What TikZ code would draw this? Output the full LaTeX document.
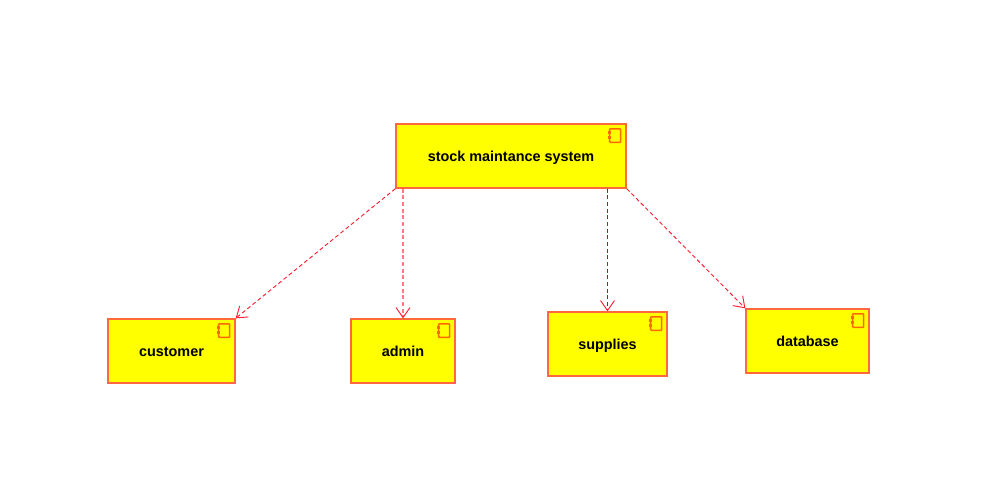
\documentclass[tikz,border=0pt]{standalone}
\usepackage{fontspec}
\setmainfont{Liberation Sans}
\usetikzlibrary{arrows.meta}
\definecolor{boxfill}{RGB}{255,255,0}
\definecolor{boxline}{RGB}{255,105,60}
\definecolor{iconline}{RGB}{255,105,0}
\definecolor{depred}{RGB}{255,30,50}
\definecolor{depdarkred}{RGB}{210,0,30}
\tikzset{
  x=0.75pt,y=-0.75pt,
  comp/.style={draw=boxline,line width=1pt,fill=boxfill,inner sep=0pt,
    text height=8pt,text depth=0pt,
    font=\bfseries\fontsize{10.8pt}{12pt}\selectfont,text=black},
  dep/.style={draw=depred,line width=0.7pt,dash pattern=on 3pt off 2pt,
    -{Straight Barb[length=7.5pt,width=10.5pt,line width=0.7pt]}},
  depwide/.style={dep,line width=1.2pt,draw=depred!60!white,
    -{Straight Barb[length=7.5pt,width=10.5pt,line width=0.7pt,color=depred]}},
  depdark/.style={dep,line width=0.9pt,draw=depdarkred,
    -{Straight Barb[length=7.5pt,width=10.5pt,line width=0.7pt,color=depred]}},
  icon/.pic={
    \draw[iconline,line width=1.2pt,fill=boxfill,rounded corners=0.6pt] (-17,5.5) rectangle (-6,19);
    \fill[iconline] (-19,8) rectangle (-15.5,11);
    \fill[iconline] (-19,12.5) rectangle (-15.5,15.5);
  }
}
\begin{document}
\begin{tikzpicture}
\useasboundingbox[fill=white] (0,0) rectangle (987,476);
\node[comp,minimum width=172.5pt,minimum height=48pt] (main) at (511,156) {stock maintance system};
\node[comp,minimum width=95.25pt,minimum height=48pt] (customer) at (171.5,351) {customer};
\node[comp,minimum width=78pt,minimum height=48pt] (admin) at (403,351) {admin};
\node[comp,minimum width=89.25pt,minimum height=48pt] (supplies) at (607.5,344) {supplies};
\node[comp,minimum width=92.25pt,minimum height=48pt] (database) at (807.5,341) {database};
\pic at (main.north east) {icon};
\pic at (customer.north east) {icon};
\pic at (admin.north east) {icon};
\pic at (supplies.north east) {icon};
\pic at (database.north east) {icon};
\draw[dep] (main.south west) -- (customer.north east);
\draw[depwide] (admin.north |- main.south) -- (admin.north);
\draw[depdark] (supplies.north |- main.south) -- (supplies.north);
\draw[dep] (main.south east) -- (database.north west);
\end{tikzpicture}
\end{document}
